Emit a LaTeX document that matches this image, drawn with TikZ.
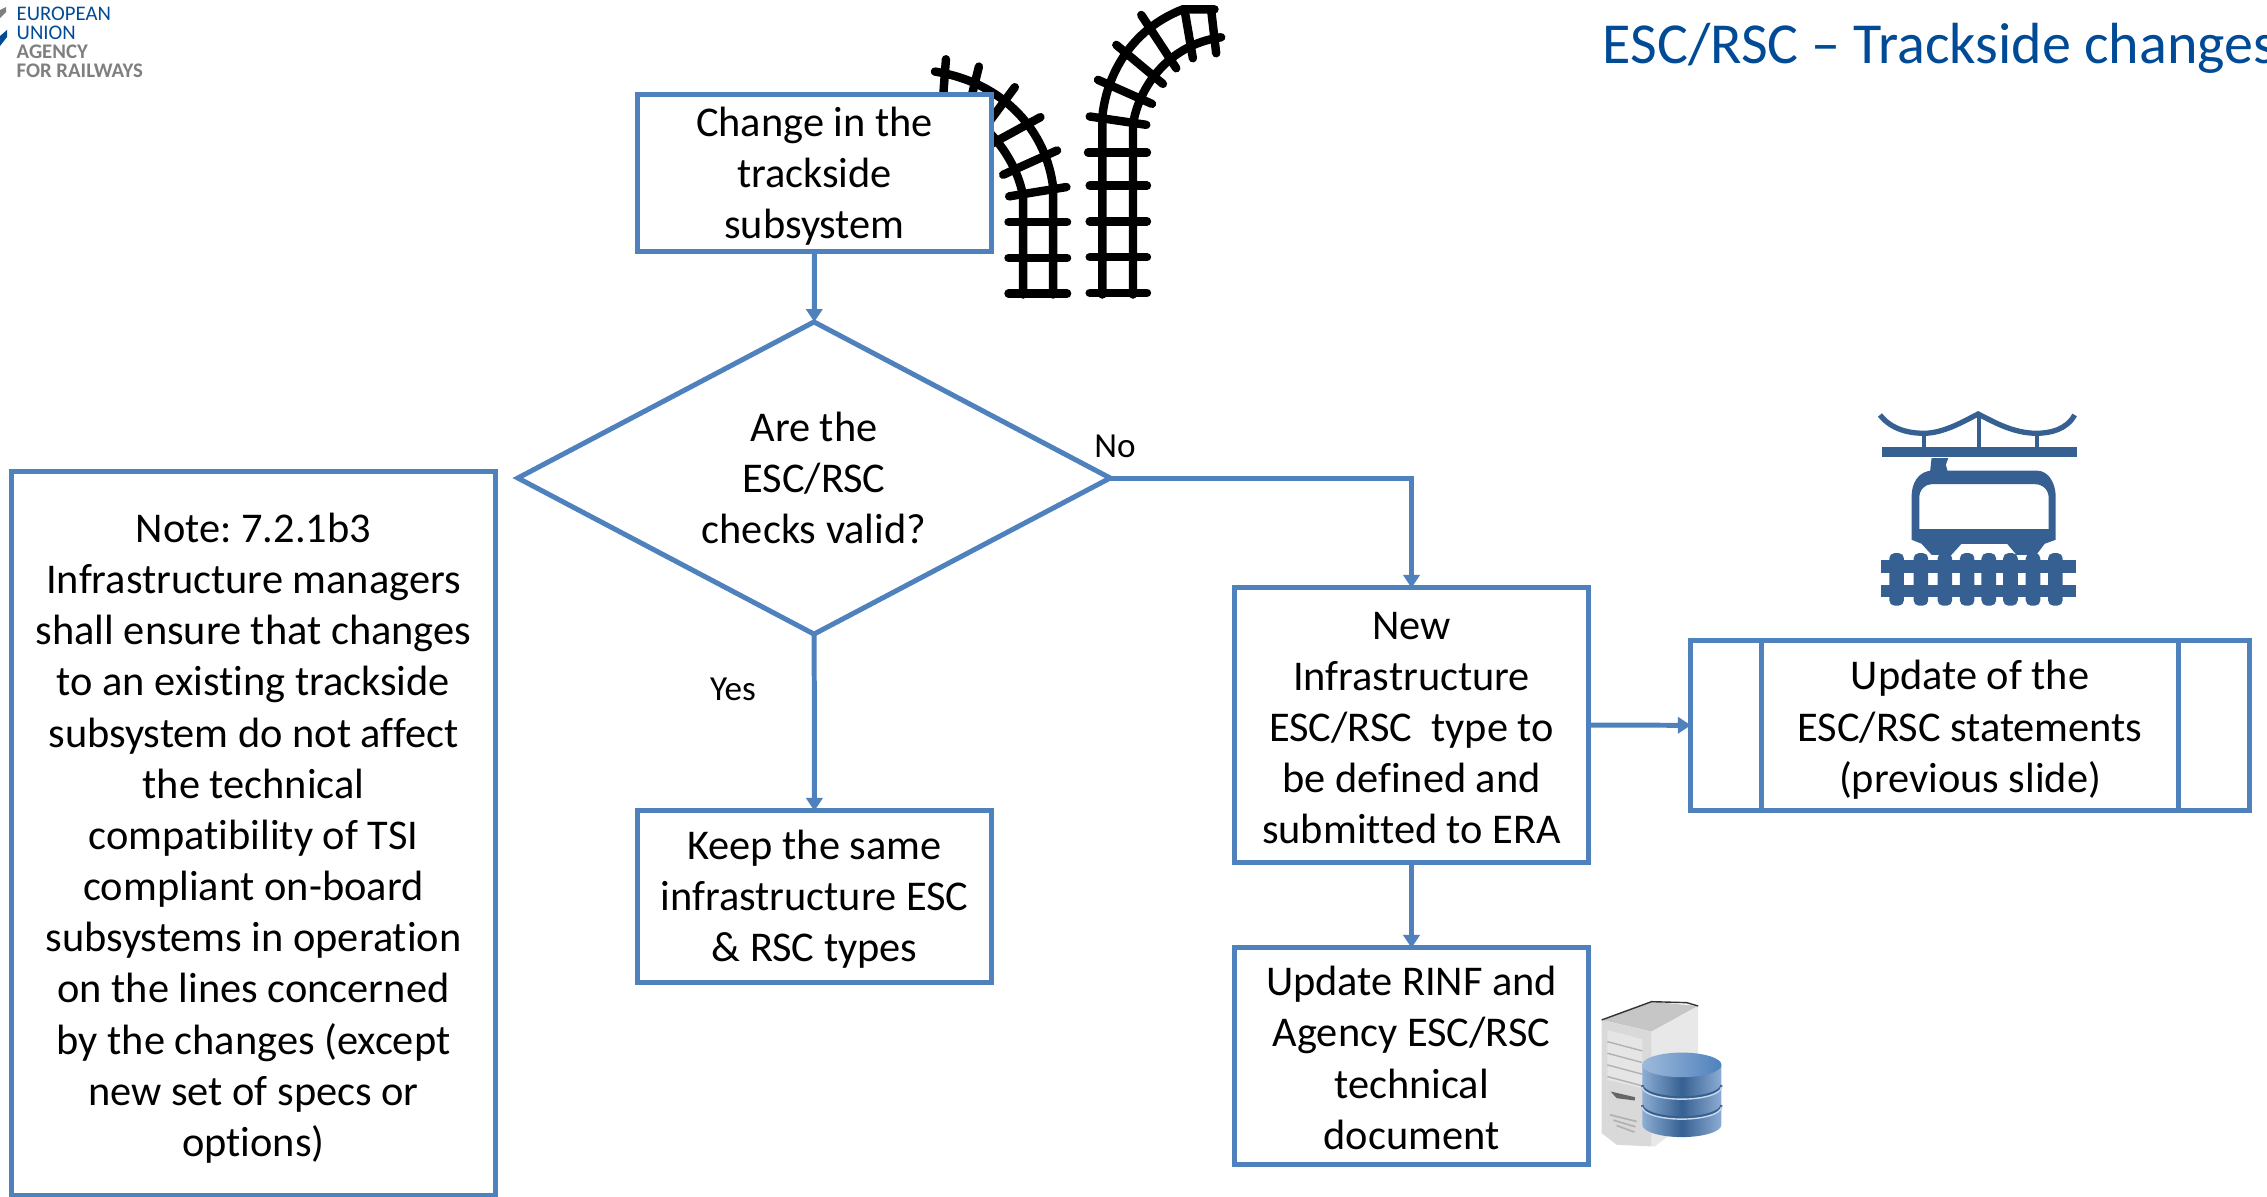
\documentclass[tikz,border=0pt]{standalone}
\usepackage{fontspec}
\setmainfont{Carlito}[Ligatures={TeX,NoCommon}]
\usetikzlibrary{
	arrows.meta,
	calc,
	positioning,
	shapes.geometric
}
\frenchspacing
\definecolor{flowblue}{HTML}{4F81BD}
\definecolor{titleblue}{HTML}{004A96}
\definecolor{logogray}{HTML}{7F7F7F}
\definecolor{iconblue}{HTML}{366092}
\newcommand\TxtDrop[1]{\rule{0pt}{#1}}
\tikzset{
	flowbox/.style={draw=flowblue, line width=1.42pt, fill=white, inner sep=0pt, outer sep=0pt, align=center, text=black, font=\fontsize{12.05}{14.55}\selectfont},
	flowarr/.style={-{Triangle[length=3.7pt, width=4.6pt]}, flowblue, line width=1.42pt},
	lbl/.style={text=black, font=\fontsize{10}{12}\selectfont, inner sep=0pt},
	logotxt/.style={anchor=west, inner sep=0pt, font=\fontsize{5.9}{6}\selectfont},
	rail/.style={line width=2.4pt, line cap=round, black}
}

\begin{document}
\begin{tikzpicture}[x=0.01cm, y=-0.01cm]

	\clip (0,0) rectangle (2267,1196);

	% logo
	\fill[logogray] (0,10) -- (6,7) -- (6,12) -- (0,18) -- cycle;
	\fill[titleblue] (0,36) -- (7,30) -- (7,37) -- (0,46) -- cycle;
	\node[logotxt, text=titleblue] (logoa) at (16,14) {EUROPEAN};
	\node[logotxt, text=titleblue] (logob) at (16,33) {UNION};
	\node[logotxt, text=logogray, font=\fontsize{5.9}{6}\selectfont\bfseries] (logoc) at (16,52) {AGENCY};
	\node[logotxt, text=logogray, font=\fontsize{5.9}{6}\selectfont\bfseries] (logod) at (16,71) {FOR RAILWAYS};

	% title
	\node[anchor=base west, inner sep=0pt, text=titleblue, font=\fontsize{16.5}{20}\selectfont] (title) at (1602,63) {ESC/RSC -- Trackside changes};

	% tracks, from a crop at 3x
	\begin{scope}[shift={(900,0)}, x=0.00333cm, y=-0.00333cm]
		\draw[rail] (608,885) -- (608,350) .. controls (620,230) and (690,90) .. (850,28) -- (945,28);
		\draw[rail] (700,885) -- (700,375) .. controls (715,270) and (800,135) .. (965,112);
		\draw[rail] (370,885) -- (370,590) .. controls (350,480) and (270,370) .. (130,290);
		\draw[rail] (460,885) -- (460,562) .. controls (440,400) and (320,250) .. (105,215);
		\foreach \xa/\ya/\xb/\yb in {
			570/880/742/880, 570/773/742/773, 570/665/742/665, 570/558/742/558, 565/458/742/458,
			570/350/740/375, 595/240/757/312, 650/135/790/252, 725/45/830/205, 855/30/880/175, 935/30/950/160,
			326/882/502/882, 326/775/502/775, 326/667/502/667, 328/590/500/562, 310/525/472/452,
			270/435/422/352, 250/390/345/262, 215/290/237/200, 130/285/138/178} {
			\draw[rail] (\xa,\ya) -- (\xb,\yb);
		}
	\end{scope}

	% catenary and car, from a crop at 3x
	\begin{scope}[shift={(1850,390)}, x=0.00333cm, y=-0.00333cm]
		\draw[iconblue, line width=1.5pt] (90,75) .. controls (125,120) and (180,130) .. (222,130) .. controls (280,130) and (340,95) .. (385,72) .. controls (430,95) and (490,130) .. (560,130) .. controls (600,130) and (650,120) .. (675,75);
		\foreach \xa/\ya in {222/130, 388/72, 562/130} {
			\draw[iconblue, line width=1.1pt] (\xa,\ya) -- (\xa,175);
		}
		\fill[iconblue] (96,170) rectangle (683,201);
		\fill[iconblue] (245,205) -- (295,205) -- (288,225) -- (295,250) -- (240,250) -- cycle;
		\fill[iconblue, even odd rule] (185,450) -- (185,320) .. controls (185,280) and (205,242) .. (250,242) -- (560,242) .. controls (600,242) and (618,285) .. (618,320) -- (618,450) -- (585,462) -- (560,495) -- (500,495) -- (472,462) -- (335,462) -- (305,495) -- (245,495) -- (215,462) -- cycle
			(208,418) -- (597,418) -- (597,325) .. controls (597,300) and (580,283) .. (555,283) -- (245,283) .. controls (225,283) and (208,300) .. (208,325) -- cycle;
		\fill[iconblue] (93,512) rectangle (678,550);
		\fill[iconblue] (93,585) rectangle (678,623);
		\foreach \xa in {140,213,285,352,417,482,550,617} {
			\fill[iconblue, rounded corners=1.5pt] (\xa-22,490) rectangle (\xa+22,648);
		}
	\end{scope}

	% server and stack, from a crop at 3x
	\begin{scope}[shift={(1580,980)}, x=0.00333cm, y=-0.00333cm]
		\fill[gray!45] (65,120) -- (215,65) -- (355,78) -- (215,155) -- cycle;
		\fill[gray!18] (215,155) -- (355,78) -- (355,400) -- (225,500) -- (215,500) -- cycle;
		\fill[gray!30] (65,120) -- (215,155) -- (215,500) -- (110,495) -- (65,460) -- cycle;
		\draw[black!80, line width=0.4pt] (65,120) -- (215,65) -- (320,68) -- (355,78);
		\fill[gray!20] (82,150) -- (187,178) -- (187,325) -- (82,300) -- cycle;
		\foreach \ya in {0,35,70,105} {
			\draw[gray!60, line width=0.4pt] (82,185+\ya) -- (187,213+\ya);
		}
		\fill[black!60] (92,335) -- (165,352) -- (165,362) -- (110,355) -- cycle;
		\foreach \ya/\xa in {0/90, 16/100, 32/110} {
			\draw[gray!60, line width=0.5pt] (\xa,405+\ya) -- (170-\xa/3+30,425+\ya);
		}
		\shade[left color=flowblue!65, right color=flowblue!65, middle color=iconblue] (187,255) -- (187,435) arc[x radius=119, y radius=37, start angle=180, end angle=0] -- (425,255) -- cycle;
		\shade[left color=flowblue!55, right color=flowblue] (306,255) ellipse[x radius=119, y radius=37];
		\foreach \ya in {316,376} {
			\draw[iconblue, line width=0.7pt] (187,\ya) arc[x radius=119, y radius=37, start angle=180, end angle=0];
			\draw[white!70!flowblue, line width=0.4pt] (187,\ya+5) arc[x radius=119, y radius=37, start angle=180, end angle=0];
		}
	\end{scope}

	% flow
	\node[flowbox, minimum width=3.53cm, minimum height=1.56cm] (change) at (814.5,173) {\TxtDrop{10pt}Change in the\\trackside\\subsystem};
	\node[flowbox, diamond, aspect=1.9, minimum width=5.92cm, minimum height=3.12cm] (check) at (814,478) {Are the\\ESC/RSC\\checks valid?};
	\node[flowbox, minimum width=3.53cm, minimum height=1.71cm] (keep) at (814.5,896.5) {\TxtDrop{10pt}Keep the same\\infrastructure ESC\\\& RSC types};
	\node[flowbox, minimum width=3.53cm, minimum height=2.74cm] (new) at (1411.5,725) {\TxtDrop{9.5pt}New\\Infrastructure\\ESC/RSC~ type to\\be defined and\\submitted to ERA};
	\node[flowbox, minimum width=5.58cm, minimum height=1.70cm] (stmt) at (1970,725.5) {\TxtDrop{10.8pt}Update of the\\ESC/RSC statements\\(previous slide)};
	\node[flowbox, minimum width=3.53cm, minimum height=2.16cm] (rinf) at (1411.5,1056) {\TxtDrop{9.5pt}Update RINF and\\Agency ESC/RSC\\technical\\document};
	\node[flowbox, minimum width=4.83cm, minimum height=7.24cm] (note) at (253.5,833.5) {\TxtDrop{11pt}Note: 7.2.1b3\\Infrastructure managers\\shall ensure that changes\\to an existing trackside\\subsystem do not affect\\the technical\\compatibility of TSI\\compliant on-board\\subsystems in operation\\on the lines concerned\\by the changes (except\\new set of specs or\\options)};

	\draw[flowblue, line width=1.42pt] ($(stmt.north west)+(71,0)$) -- ($(stmt.south west)+(71,0)$);
	\draw[flowblue, line width=1.42pt] ($(stmt.north east)+(-71,0)$) -- ($(stmt.south east)+(-71,0)$);

	\draw[flowarr] (change) -- (check);
	\draw[flowarr] (check) -- (keep);
	\draw[flowarr] (check.east) -| (new.north);
	\draw[flowarr] (new) -- (stmt);
	\draw[flowarr] (new) -- (rinf);

	\node[lbl] (no) at (1115,446) {No};
	\node[lbl] (yes) at (733,689) {Yes};

\end{tikzpicture}
\end{document}
